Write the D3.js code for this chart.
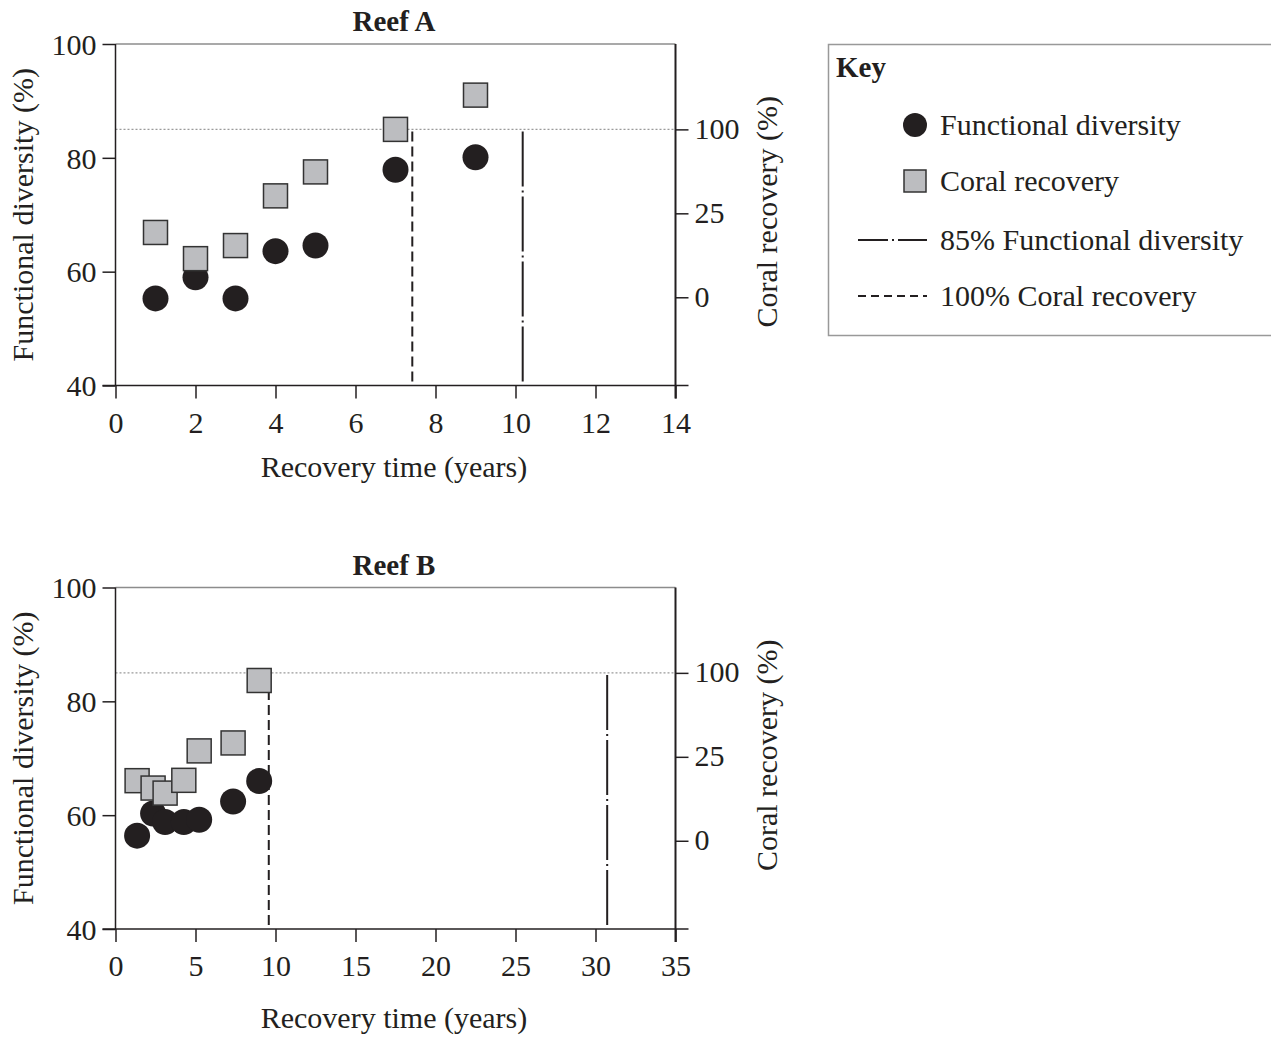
<!DOCTYPE html>
<html>
<head>
<meta charset="utf-8">
<script src="https://cdn.jsdelivr.net/npm/d3@7"></script>
<style>
body { margin: 0; background: #fff; }
svg { display: block; }
text { font-family: "Liberation Serif", "Times New Roman", serif; fill: #231f20; }
</style>
</head>
<body>
<svg id="chart" width="1271" height="1037"></svg>
<script>
// ---- data ----
const reefAYears = [1, 2, 3, 4, 5, 7, 9];
const reefAFunctional = [55.3, 59.0, 55.3, 63.6, 64.6, 77.9, 80.1];
const reefACoral = [19.3, 11.5, 15.4, 40.6, 62, 100, 130.6];
const reefACoral100 = 7.42;   // years to 100% coral recovery
const reefAFunc85 = 10.18;    // years to 85% functional diversity

const reefBYears = [1.35, 2.35, 3.1, 4.27, 5.23, 7.35, 8.98];
const reefBFunctional = [56.4, 60.3, 58.8, 58.8, 59.2, 62.4, 66.0];
const reefBCoral = [17.9, 15.7, 14.2, 18.0, 30.3, 37.4, 93.2];
const reefBCoral100 = 9.58;
const reefBFunc85 = 30.73;

const leftTicks = [40, 60, 80, 100];
const coralTicks = [0, 25, 100];
// where the coral ticks sit on the functional-diversity scale
const coralTickLevels = [55.5, 70.25, 85];
const reefATicksX = [0, 2, 4, 6, 8, 10, 12, 14];
const reefBTicksX = [0, 5, 10, 15, 20, 25, 30, 35];

const keyLabels = ["Functional diversity", "Coral recovery", "85% Functional diversity", "100% Coral recovery"];

const svg = d3.select("#chart");
const ink = "#231f20";
const fs = 30;

function drawPanel(o) {
  let left = 115.5, right = 675.5;
  let top = o.top, bottom = o.top + 341.5;
  let g = svg.append("g");

  let x = d3.scaleLinear().domain([0, o.xMax]).range([left, right]);
  let y = d3.scaleLinear().domain([40, 100]).range([bottom, top]);
  // coral axis is not linear: 0, 25, 100 are evenly spaced
  let yc = d3.scaleLinear().domain(coralTicks).range(coralTickLevels.map(v => y(v)));

  // top frame line
  g.append("line").attr("x1", left).attr("x2", right).attr("y1", top).attr("y2", top)
    .style("stroke", "#8c8c8c").style("stroke-width", 1.5);
  // 100% coral reference, dotted
  g.append("line").attr("x1", left).attr("x2", right).attr("y1", yc(100)).attr("y2", yc(100))
    .style("stroke", "#9a9a9a").style("stroke-width", 1.2).style("stroke-dasharray", "2,2");

  // threshold lines
  g.append("line").attr("x1", x(o.coral100)).attr("x2", x(o.coral100))
    .attr("y1", yc(100) + 2).attr("y2", bottom)
    .style("stroke", ink).style("stroke-width", 2).style("stroke-dasharray", "10,5");
  g.append("line").attr("x1", x(o.func85)).attr("x2", x(o.func85))
    .attr("y1", yc(100) + 2).attr("y2", bottom)
    .style("stroke", ink).style("stroke-width", 2).style("stroke-dasharray", "55,4,2,4");

  // axes
  let axL = d3.axisLeft(y).tickValues(leftTicks).tickSize(13).tickSizeOuter(0).tickPadding(6);
  let gl = g.append("g").attr("transform", `translate(${left},0)`).call(axL);
  gl.select(".domain").remove();
  gl.selectAll("line").style("stroke", ink).style("stroke-width", 1.5);
  gl.selectAll("text").style("font-size", fs + "px").attr("font-family", null).attr("dy", "0.34em");

  let axB = d3.axisBottom(x).tickValues(o.ticksX).tickSize(13).tickSizeOuter(0).tickPadding(10);
  let gb = g.append("g").attr("transform", `translate(0,${bottom})`).call(axB);
  gb.select(".domain").remove();
  gb.selectAll("line").style("stroke", ink).style("stroke-width", 1.5);
  gb.selectAll("text").style("font-size", fs + "px").attr("font-family", null).attr("dy", "0.8em");

  let axR = d3.axisRight(yc).tickValues(coralTicks).tickSize(13).tickSizeOuter(0).tickPadding(6);
  let gr = g.append("g").attr("transform", `translate(${right},0)`).call(axR);
  gr.select(".domain").remove();
  gr.selectAll("line").style("stroke", ink).style("stroke-width", 1.5);
  gr.selectAll("text").style("font-size", fs + "px").attr("font-family", null).attr("dy", "0.3em");

  // axis lines
  g.append("line").attr("x1", left).attr("x2", left).attr("y1", top).attr("y2", bottom)
    .style("stroke", ink).style("stroke-width", 1.5);
  g.append("line").attr("x1", right).attr("x2", right).attr("y1", top).attr("y2", bottom + 13)
    .style("stroke", ink).style("stroke-width", 2);
  g.append("line").attr("x1", left - 13).attr("x2", right + 13).attr("y1", bottom).attr("y2", bottom)
    .style("stroke", ink).style("stroke-width", 1.5);

  // markers
  g.selectAll(".dot").data(o.years).enter().append("circle")
    .attr("cx", d => x(d))
    .attr("cy", (d, i) => y(o.functional[i]))
    .attr("r", 13)
    .style("fill", ink);
  g.selectAll(".sq").data(o.years).enter().append("rect")
    .attr("x", d => x(d) - 12)
    .attr("y", (d, i) => yc(o.coral[i]) - 12)
    .attr("width", 24).attr("height", 24)
    .style("fill", "#bcbdc0").style("stroke", "#333").style("stroke-width", 1.5);

  // titles
  g.append("text").attr("x", 394).attr("y", top - 13).attr("text-anchor", "middle")
    .style("font-size", "29px").style("font-weight", "bold").text(o.title);
  g.append("text").attr("x", 394).attr("y", bottom + o.xLabelGap).attr("text-anchor", "middle")
    .style("font-size", fs + "px").text("Recovery time (years)");
  g.append("text").attr("transform", `translate(33,${(top + bottom) / 2}) rotate(-90)`)
    .attr("text-anchor", "middle").style("font-size", fs + "px").text("Functional diversity (%)");
  g.append("text").attr("transform", `translate(777,${(top + bottom) / 2 - 3}) rotate(-90)`)
    .attr("text-anchor", "middle").style("font-size", fs + "px").text("Coral recovery (%)");
}

drawPanel({ title: "Reef A", top: 44, xMax: 14, ticksX: reefATicksX, xLabelGap: 91,
  years: reefAYears, functional: reefAFunctional, coral: reefACoral,
  coral100: reefACoral100, func85: reefAFunc85 });
drawPanel({ title: "Reef B", top: 587.5, xMax: 35, ticksX: reefBTicksX, xLabelGap: 99,
  years: reefBYears, functional: reefBFunctional, coral: reefBCoral,
  coral100: reefBCoral100, func85: reefBFunc85 });

// ---- key ----
let key = svg.append("g");
key.append("rect").attr("x", 828.5).attr("y", 44.5).attr("width", 460).attr("height", 291)
  .style("fill", "none").style("stroke", "#999").style("stroke-width", 1.5);
key.append("text").attr("x", 836).attr("y", 77).style("font-size", "29px").style("font-weight", "bold").text("Key");
let rowY = [125, 181, 240, 296];
key.selectAll(".lbl").data(keyLabels).enter().append("text")
  .attr("x", 940).attr("y", (d, i) => rowY[i]).attr("dy", "0.34em")
  .style("font-size", fs + "px").text(d => d);
key.append("circle").attr("cx", 915).attr("cy", rowY[0]).attr("r", 12).style("fill", ink);
key.append("rect").attr("x", 904).attr("y", rowY[1] - 11).attr("width", 22).attr("height", 22)
  .style("fill", "#bcbdc0").style("stroke", "#333").style("stroke-width", 1.5);
key.append("line").attr("x1", 858).attr("x2", 927).attr("y1", rowY[2]).attr("y2", rowY[2])
  .style("stroke", ink).style("stroke-width", 2).style("stroke-dasharray", "30,4,2,4");
key.append("line").attr("x1", 858).attr("x2", 927).attr("y1", rowY[3]).attr("y2", rowY[3])
  .style("stroke", ink).style("stroke-width", 2).style("stroke-dasharray", "8,5");
</script>
</body>
</html>
